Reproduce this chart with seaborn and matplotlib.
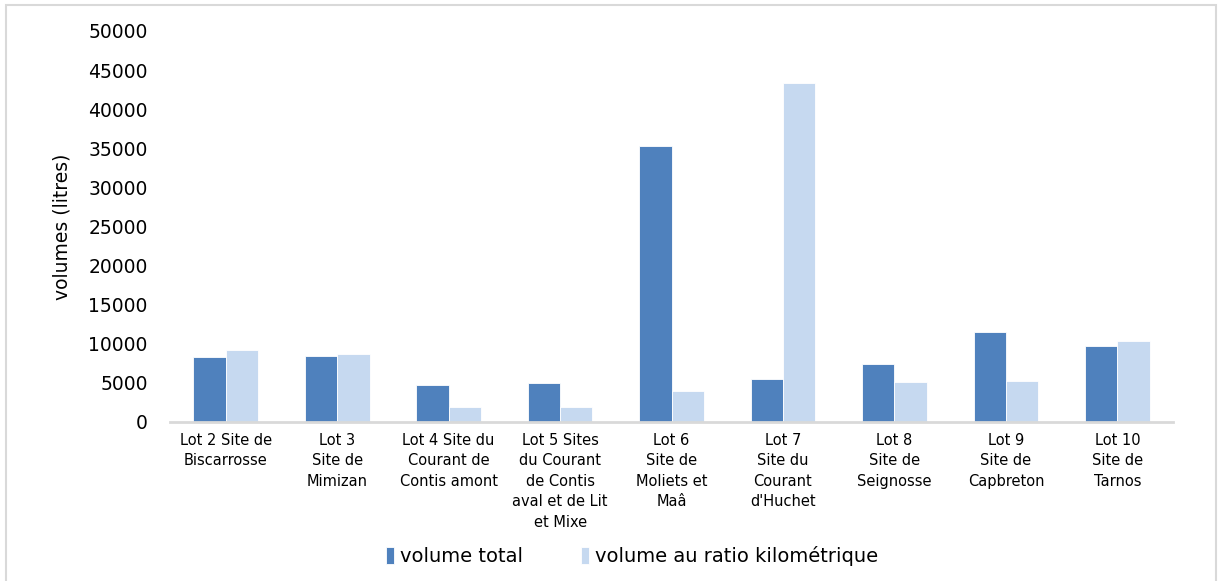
import matplotlib
matplotlib.use("Agg")

import matplotlib.pyplot as plt
import pandas as pd
import seaborn as sns
from matplotlib.patches import Rectangle

# data
lots = [
    "Lot 2 Site de\nBiscarrosse",
    "Lot 3\nSite de\nMimizan",
    "Lot 4 Site du\nCourant de\nContis amont",
    "Lot 5 Sites\ndu Courant\nde Contis\naval et de Lit\net Mixe",
    "Lot 6\nSite de\nMoliets et\nMaâ",
    "Lot 7\nSite du\nCourant\nd'Huchet",
    "Lot 8\nSite de\nSeignosse",
    "Lot 9\nSite de\nCapbreton",
    "Lot 10\nSite de\nTarnos",
]
volume_total = [8350, 8400, 4770, 4950, 35290, 5460, 7420, 11470, 9720]
volume_ratio = [9210, 8660, 1920, 1920, 3930, 43390, 5080, 5240, 10360]

series_names = ["volume total", "volume au ratio kilométrique"]
colors = ["#4F81BD", "#C6D9F0"]

df = pd.DataFrame({
    "lot": lots * 2,
    "volume": volume_total + volume_ratio,
    "serie": [series_names[0]] * len(lots) + [series_names[1]] * len(lots),
})

sns.set_style("white")
plt.rcParams["font.family"] = ["DejaVu Sans"]
plt.rcParams["text.color"] = "black"
plt.rcParams["axes.labelcolor"] = "black"
plt.rcParams["xtick.color"] = "black"
plt.rcParams["ytick.color"] = "black"

fig = plt.figure(figsize=(12.18, 5.81), dpi=100)
ax = fig.add_axes([0.1396, 0.2737, 0.8235, 0.673])

sns.barplot(
    data=df,
    x="lot",
    y="volume",
    hue="serie",
    palette=colors,
    saturation=1,
    width=0.58,
    gap=0,
    edgecolor="white",
    linewidth=0.6,
    ax=ax,
)

ax.set_ylim(0, 50000)
ax.set_yticks(range(0, 50001, 5000))
ax.tick_params(axis="y", labelsize=13.5, length=0, pad=16)
ax.tick_params(axis="x", length=0, pad=8)
ax.set_xlabel("")
ax.set_ylabel("volumes (litres)", fontsize=13.5, labelpad=12)

for lab in ax.get_xticklabels():
    lab.set_fontfamily(["Liberation Sans Narrow", "DejaVu Sans"])
    lab.set_fontsize(10.5)
    lab.set_linespacing(1.45)
    lab.set_verticalalignment("top")

for side in ["left", "right", "top"]:
    ax.spines[side].set_visible(False)
ax.spines["bottom"].set_color("#D9D9D9")
ax.spines["bottom"].set_linewidth(2)

ax.legend(
    loc="center",
    bbox_to_anchor=(0.519, 0.043),
    bbox_transform=fig.transFigure,
    ncol=2,
    frameon=False,
    fontsize=14,
    handlelength=0.4,
    handleheight=1.0,
    handletextpad=0.3,
    columnspacing=3.0,
)

# light grey frame around the chart
fig.patches.append(Rectangle(
    (0.005, -0.02), 0.993, 1.011,
    transform=fig.transFigure,
    fill=False,
    edgecolor="#D9D9D9",
    linewidth=1.5,
))

plt.savefig("out.png", dpi=100)
plt.close()
